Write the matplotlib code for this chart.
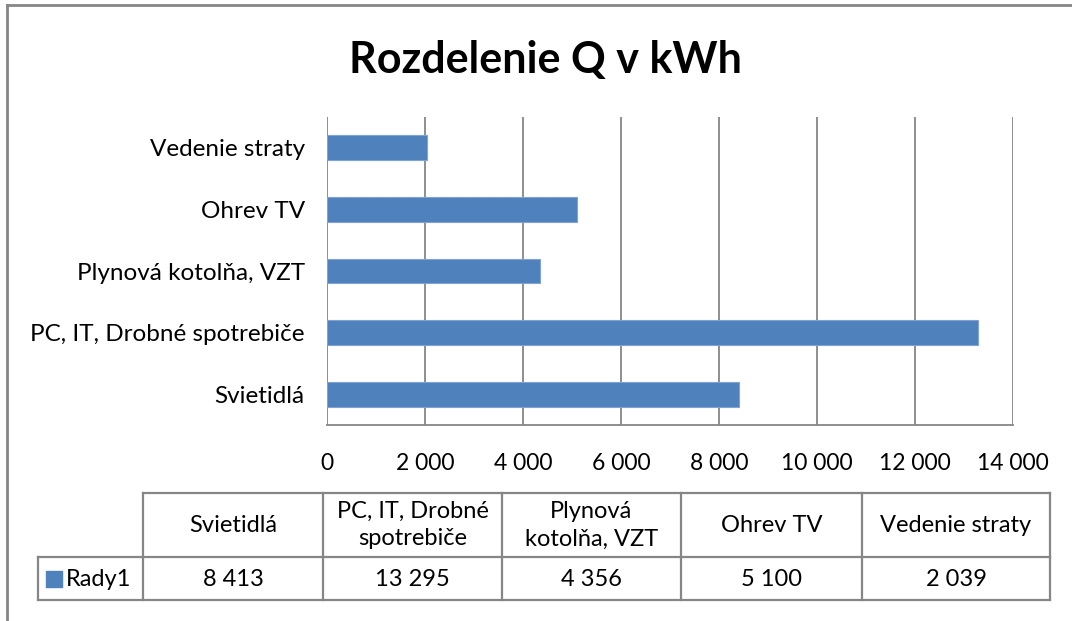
import matplotlib.pyplot as plt
from matplotlib.lines import Line2D
from matplotlib.ticker import FuncFormatter

# Dáta grafu
kategorie = ["Svietidlá", "PC, IT, Drobné spotrebiče", "Plynová kotolňa, VZT", "Ohrev TV", "Vedenie straty"]
hlavicky_tabulky = ["Svietidlá", "PC, IT, Drobné\nspotrebiče", "Plynová\nkotolňa, VZT", "Ohrev TV", "Vedenie straty"]
hodnoty = [8413, 13295, 4356, 5100, 2039]
nazov_radu = "Rady1"
x_ticky = [0, 2000, 4000, 6000, 8000, 10000, 12000, 14000]

modra = "#4F81BD"
siva = "#868686"

plt.rcParams['font.family'] = ['Lato', 'DejaVu Sans']


def s_medzerou(v):
    return f"{v:,.0f}".replace(",", " ")


fig = plt.figure(figsize=(10.72, 6.21), dpi=100)

# Rámček grafu
fig.add_artist(Line2D([7 / 1072, 7 / 1072], [0, 1 - 5 / 621], color=siva, lw=2))
fig.add_artist(Line2D([7 / 1072, 1], [1 - 5 / 621, 1 - 5 / 621], color=siva, lw=2))

# Hlavný graf
ax = fig.add_axes([327 / 1072, 1 - 425 / 621, 686 / 1072, 308 / 621])
ax.barh(range(len(kategorie)), hodnoty, height=0.4, color=modra, edgecolor="#7FA3D6", linewidth=0.8, zorder=3)
ax.set_yticks(range(len(kategorie)))
ax.set_yticklabels(kategorie, fontsize=17.5)
ax.set_ylim(-0.5, len(kategorie) - 0.5)
ax.set_xlim(0, 14000)
ax.set_xticks(x_ticky)
ax.xaxis.set_major_formatter(FuncFormatter(lambda v, p: s_medzerou(v)))
ax.tick_params(axis="x", length=0, pad=20, labelsize=16.5)
ax.tick_params(axis="y", length=0, pad=16)
ax.grid(axis="x", color=siva, lw=1.3, zorder=0)
for s in ["top", "right", "left"]:
    ax.spines[s].set_visible(False)
ax.spines["bottom"].set_color(siva)
ax.spines["bottom"].set_linewidth(1.3)

ax.set_title("Rozdelenie Q v kWh", fontsize=31, fontweight="bold", pad=32, x=0.318)

# Dátová tabuľka pod grafom (súradnice tabuľky v pixeloch)
hranice = [143, 323, 502, 681, 862, 1050]
y_hore, y_stred, y_dole = 493, 557, 600
x_lavy = 38

tab_ax = fig.add_axes([0, 0, 1, 1], zorder=-1)
tab_ax.set_xlim(0, 1072)
tab_ax.set_ylim(621, 0)
tab_ax.axis("off")

lw_tab = 1.6
tab_ax.plot([hranice[0], hranice[-1]], [y_hore, y_hore], color=siva, lw=lw_tab)
tab_ax.plot([x_lavy, hranice[-1]], [y_stred, y_stred], color=siva, lw=lw_tab)
tab_ax.plot([x_lavy, hranice[-1]], [y_dole, y_dole], color=siva, lw=lw_tab)
tab_ax.plot([x_lavy, x_lavy], [y_stred, y_dole], color=siva, lw=lw_tab)
for x in hranice:
    tab_ax.plot([x, x], [y_hore, y_dole], color=siva, lw=lw_tab)

for i in range(len(hodnoty)):
    xc = (hranice[i] + hranice[i + 1]) / 2
    tab_ax.text(xc, (y_hore + y_stred) / 2, hlavicky_tabulky[i], ha="center", va="center",
                fontsize=17, linespacing=1.4)
    tab_ax.text(xc, (y_stred + y_dole) / 2 + 1, s_medzerou(hodnoty[i]), ha="center", va="center", fontsize=17)

# Legenda v tabuľke
tab_ax.scatter([54], [(y_stred + y_dole) / 2], marker="s", s=125, color=modra)
tab_ax.text(66, (y_stred + y_dole) / 2 + 1, nazov_radu, ha="left", va="center", fontsize=17)

plt.savefig("out.png")
